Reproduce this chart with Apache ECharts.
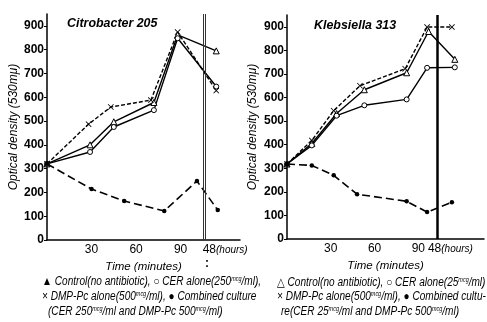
<!DOCTYPE html>
<html><head><meta charset="utf-8">
<script src="https://cdn.jsdelivr.net/npm/echarts@6/dist/echarts.min.js"></script>
<style>html,body{margin:0;padding:0;background:#fff}#c{width:487px;height:322px}</style>
</head><body><div id="c"></div>
<script>
const FONT = "'Liberation Sans','DejaVu Sans',sans-serif";

// ---- data ----
const titles = ['Citrobacter 205', 'Klebsiella 313'];
const yTickValues = [0, 100, 200, 300, 400, 500, 600, 700, 800, 900];
const xTickValuesLeft = [30, 60, 90, 120];
const xTickValuesRight = [30, 60, 90, 112];
const xTickLabels = ['30', '60', '90', '{a|48}{h|(hours)}'];
const breakLeft = 105;
const breakRight = 103;

// Citrobacter 205: [time (min, 48 h placed after the break), optical density]
const citroControl  = [[0, 320], [29, 400], [45, 497], [72, 578], [88, 862], [114, 795]];
const citroCER      = [[0, 320], [29, 370], [45, 475], [72, 546], [88, 848], [114, 645]];
const citroDMP      = [[0, 320], [28, 487], [43, 559], [70, 588], [88, 874], [114, 628]];
const citroCombined = [[0, 320], [30, 214], [52, 164], [79, 122], [101, 248], [115, 126]];

// Klebsiella 313
const klebControl  = [[0, 318], [17, 405], [34, 532], [53, 633], [82, 705], [97, 880], [115, 762]];
const klebCER      = [[0, 318], [17, 397], [34, 523], [53, 567], [82, 592], [96, 726], [115, 728]];
const klebDMP      = [[0, 318], [17, 418], [32, 544], [50, 650], [81, 722], [96, 899], [113, 899]];
const klebCombined = [[0, 318], [17, 312], [32, 270], [48, 190], [82, 160], [96, 114], [113, 156]];

// ---- chart ----
const chart = echarts.init(document.getElementById('c'), null, {renderer: 'canvas'});
const crossPath = 'path://M0,1L1,0L5,4L9,0L10,1L6,5L10,9L9,10L5,6L1,10L0,9L4,5Z';

function xAxisFor(i, ticks, max) {
  return {
    type: 'value', gridIndex: i, min: 0, max: max, interval: 2,
    name: 'Time (minutes)', nameLocation: 'middle', nameGap: 16,
    nameTextStyle: {fontFamily: FONT, fontStyle: 'italic', fontSize: 11.5, color: '#000'},
    axisLine: {lineStyle: {color: '#000', width: 1.5}},
    axisTick: {show: false},
    axisLabel: {margin: 4, color: '#000', fontFamily: FONT, fontSize: 12, showMinLabel: true, showMaxLabel: true,
      hideOverlap: false,
      rich: {a: {fontFamily: FONT, fontSize: 12, color: '#000'}, h: {fontFamily: FONT, fontSize: 10, fontStyle: 'italic', color: '#000'}},
      formatter: v => { const k = ticks.indexOf(v); return k >= 0 ? xTickLabels[k] : ''; }},
    splitLine: {show: false}
  };
}
function yAxisFor(i, gap) {
  return {
    type: 'value', gridIndex: i, min: 0, max: 950, interval: 100,
    name: 'Optical density (530mμ)', nameLocation: 'middle', nameGap: gap,
    nameTextStyle: {fontFamily: FONT, fontStyle: 'italic', fontSize: 12, color: '#000'},
    axisLine: {show: true, lineStyle: {color: '#000', width: 1.5}},
    axisTick: {show: true, length: 3, customValues: yTickValues, lineStyle: {color: '#000'}},
    axisLabel: {customValues: yTickValues, margin: 3, color: '#000', fontFamily: FONT, fontSize: 12, fontWeight: 'bold'},
    splitLine: {show: false}
  };
}
function seriesFor(i, data, kind, extra) {
  const base = {type: 'line', xAxisIndex: i, yAxisIndex: i, data: data, animation: false,
    symbolSize: 5, lineStyle: {color: '#000', width: 1.4}, itemStyle: {color: '#000'}};
  if (kind === 'control') { base.symbol = 'triangle'; base.symbolSize = 6; base.itemStyle = {color: '#fff', borderColor: '#000', borderWidth: 1}; }
  if (kind === 'cer') { base.symbol = 'circle'; base.itemStyle = {color: '#fff', borderColor: '#000', borderWidth: 1}; }
  if (kind === 'dmp') { base.symbol = crossPath; base.symbolSize = 6; base.lineStyle.type = [4, 2]; }
  if (kind === 'comb') { base.symbol = 'circle'; base.symbolSize = 4.5; base.lineStyle.type = [8, 4]; base.lineStyle.width = 1.6; }
  return Object.assign(base, extra || {});
}
function breakLine(x, width, color) {
  return {silent: true, symbol: 'none', label: {show: false},
    lineStyle: {color: color, width: width, type: 'solid'}, data: [{xAxis: x}]};
}

const legendRich = {
  sup: {fontSize: 6.5, fontFamily: FONT, fontStyle: 'italic', fill: '#000', verticalAlign: 'top', padding: [0, 0, 5, 0]}
};
function legendText(x, y, txt) {
  return {type: 'text', x: x, y: y, scaleX: 0.84, silent: true,
    style: {text: txt, fontFamily: FONT, fontStyle: 'italic', fontSize: 12, fill: '#000', rich: legendRich}};
}
function titleText(x, y, txt) {
  return {type: 'text', x: x, y: y, scaleX: 0.92, silent: true,
    style: {text: txt, fontFamily: FONT, fontStyle: 'italic', fontWeight: 'bold', fontSize: 13.5, fill: '#000'}};
}

const option = {
  backgroundColor: '#fff',
  animation: false,
  textStyle: {fontFamily: FONT},
  grid: [
    {left: 47, top: 14, width: 193, height: 226},
    {left: 287, top: 15, width: 200, height: 224}
  ],
  xAxis: [xAxisFor(0, xTickValuesLeft, 130), xAxisFor(1, xTickValuesRight, 135)],
  yAxis: [yAxisFor(0, 26), yAxisFor(1, 28)],
  series: [
    seriesFor(0, citroControl, 'control', {markLine: breakLine(breakLeft, 1, '#333')}),
    seriesFor(0, citroCER, 'cer', {markLine: breakLine(breakLeft + 1.6, 1, '#333')}),
    seriesFor(0, citroDMP, 'dmp'),
    seriesFor(0, citroCombined, 'comb'),
    seriesFor(1, klebControl, 'control', {markLine: breakLine(breakRight, 2.5, '#000')}),
    seriesFor(1, klebCER, 'cer'),
    seriesFor(1, klebDMP, 'dmp'),
    seriesFor(1, klebCombined, 'comb')
  ],
  graphic: [
    titleText(67, 16, titles[0]),
    titleText(314, 18, titles[1]),
    {type: 'text', x: 205, y: 258, silent: true, style: {text: ':', fontFamily: FONT, fontSize: 12, fontWeight: 'bold', fill: '#000'}},
    legendText(42, 276, '▲ Control(no antibiotic), ○ CER alone(250{sup|mcg}/ml),'),
    legendText(42, 291, '× DMP-Pc alone(500{sup|mcg}/ml), ● Combined culture'),
    legendText(48, 306, '(CER 250{sup|mcg}/ml and DMP-Pc 500{sup|mcg}/ml)'),
    legendText(277, 277, '△ Control(no antibiotic), ○ CER alone(25{sup|mcg}/ml)'),
    legendText(277, 291, '× DMP-Pc alone(500{sup|mcg}/ml), ● Combined cultu-'),
    legendText(281, 306, 're(CER 25{sup|mcg}/ml and DMP-Pc 500{sup|mcg}/ml)')
  ]
};
chart.setOption(option);
</script>
</body></html>
